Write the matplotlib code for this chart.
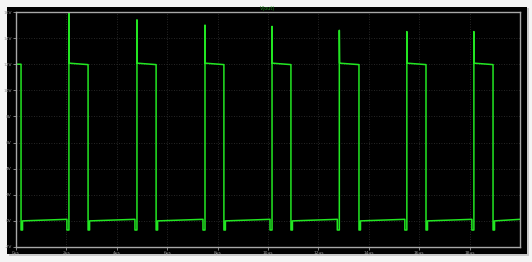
import numpy as np
import matplotlib.pyplot as plt
from matplotlib.patches import Rectangle

# switching node waveform (time in us, volts)
rise_times = [2.10, 4.80, 7.50, 10.16, 12.83, 15.51, 18.17]
fall_times = [0.20, 2.86, 5.56, 8.25, 10.91, 13.61, 16.27, 18.93]
spike_peaks = [16.0, 15.4, 15.0, 14.9, 14.6, 14.5, 14.5]
high_start = 12.08
high_end = 11.97
low_start = 0.0
low_end = 0.12
dip_level = -0.7
dip_before = 0.08
dip_after = 0.06

x_ticks = [0, 2, 4, 6, 8, 10, 12, 14, 16, 18]
x_labels = ["0µs", "2µs", "4µs", "6µs", "8µs", "10µs", "12µs", "14µs", "16µs", "18µs"]
y_ticks = [-2, 0, 2, 4, 6, 8, 10, 12, 14, 16]
y_labels = ["-2V", "0V", "2V", "4V", "6V", "8V", "10V", "12V", "14V", "16V"]

# build the piecewise trace
t = [0.0, fall_times[0]]
v = [12.0, 12.0]
for i, f in enumerate(fall_times):
    t += [f, f + dip_after, f + dip_after]
    v += [dip_level, dip_level, low_start]
    if i < len(rise_times):
        r = rise_times[i]
        t += [r - dip_before, r - dip_before, r, r, r + 0.01, fall_times[i + 1]]
        v += [low_end, dip_level, dip_level, spike_peaks[i], high_start, high_end]
t += [20.0]
v += [low_end]

W, H = 532, 262
fig = plt.figure(figsize=(W / 100, H / 100), dpi=100)
fig.patch.set_facecolor("#f4f4f4")
fig.add_artist(Rectangle((9 / W, 6 / H), 520 / W, 248 / H, transform=fig.transFigure,
                         facecolor="#c8c8c8", edgecolor="none", zorder=-2))
fig.add_artist(Rectangle((7 / W, 8 / H), 520 / W, 247 / H, transform=fig.transFigure,
                         facecolor="black", edgecolor="none", zorder=-1))

ax = fig.add_axes([16 / W, (H - 247) / H, 504 / W, 235 / H])
ax.set_facecolor("black")
ax.plot(t, v, color="#22e622", lw=1.1)
ax.set_xlim(0, 20)
ax.set_ylim(-2, 16)

ax.set_xticks(x_ticks)
ax.set_xticklabels(x_labels)
ax.set_yticks(y_ticks)
ax.set_yticklabels(y_labels)
ax.tick_params(colors="#9a9a9a", labelsize=3.2, length=2, width=0.6, pad=1)
for s in ax.spines.values():
    s.set_color("#a8a8a8")
    s.set_linewidth(1.0)
ax.grid(True, color="#333333", linestyle=(0, (1, 2)), lw=0.6)

ax.set_title("V(out)", color="#1a8a1a", fontsize=3.5, pad=1.5)

fig.savefig("out.png", dpi=100, facecolor=fig.get_facecolor())
